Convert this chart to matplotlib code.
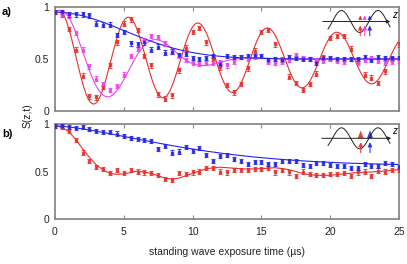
import numpy as np
import matplotlib
matplotlib.use("Agg")
import matplotlib.pyplot as plt

plt.rcParams['font.family'] = ['Liberation Sans', 'DejaVu Sans']

# measurement times (us)
t_data = np.arange(0, 25.01, 0.5)

# panel a) data
a_red = [0.95, 0.93, 0.79, 0.59, 0.34, 0.14, 0.13, 0.23, 0.44, 0.66,
         0.84, 0.88, 0.78, 0.53, 0.44, 0.16, 0.12, 0.15, 0.39, 0.61,
         0.76, 0.80, 0.66, 0.50, 0.42, 0.25, 0.18, 0.26, 0.41, 0.58,
         0.76, 0.78, 0.64, 0.50, 0.33, 0.27, 0.20, 0.26, 0.36, 0.52,
         0.70, 0.72, 0.72, 0.60, 0.48, 0.35, 0.32, 0.27, 0.38, 0.50,
         0.64]
a_magenta = [0.95, 0.94, 0.92, 0.75, 0.59, 0.43, 0.31, 0.26, 0.20, 0.24,
             0.35, 0.53, 0.60, 0.68, 0.72, 0.71, 0.65, 0.57, 0.53, 0.49,
             0.46, 0.45, 0.46, 0.46, 0.47, 0.44, 0.47, 0.52, 0.50, 0.52,
             0.53, 0.47, 0.46, 0.47, 0.49, 0.54, 0.51, 0.50, 0.49, 0.48,
             0.50, 0.48, 0.47, 0.50, 0.46, 0.49, 0.51, 0.48, 0.46, 0.47,
             0.48]
a_blue = [0.95, 0.95, 0.93, 0.93, 0.93, 0.92, 0.84, 0.83, 0.83, 0.73,
          0.76, 0.65, 0.64, 0.66, 0.59, 0.62, 0.56, 0.57, 0.54, 0.55,
          0.51, 0.50, 0.51, 0.53, 0.45, 0.53, 0.52, 0.52, 0.53, 0.53,
          0.53, 0.49, 0.50, 0.49, 0.52, 0.51, 0.50, 0.50, 0.46, 0.51,
          0.51, 0.50, 0.50, 0.50, 0.50, 0.52, 0.49, 0.52, 0.51, 0.51,
          0.51]

# panel b) data
b_red = [0.98, 0.97, 0.93, 0.83, 0.70, 0.61, 0.55, 0.53, 0.48, 0.52,
         0.48, 0.52, 0.50, 0.49, 0.48, 0.46, 0.42, 0.41, 0.48, 0.47,
         0.49, 0.50, 0.54, 0.54, 0.50, 0.49, 0.52, 0.52, 0.52, 0.53,
         0.53, 0.54, 0.49, 0.52, 0.49, 0.45, 0.50, 0.47, 0.46, 0.46,
         0.47, 0.47, 0.48, 0.45, 0.49, 0.50, 0.45, 0.51, 0.50, 0.52,
         0.52]
b_blue = [0.98, 0.98, 0.97, 0.96, 0.97, 0.95, 0.93, 0.92, 0.92, 0.90,
          0.87, 0.85, 0.84, 0.83, 0.82, 0.74, 0.77, 0.70, 0.71, 0.76,
          0.72, 0.75, 0.67, 0.61, 0.66, 0.67, 0.63, 0.61, 0.58, 0.60,
          0.60, 0.58, 0.58, 0.61, 0.61, 0.61, 0.57, 0.56, 0.59, 0.59,
          0.57, 0.56, 0.56, 0.54, 0.54, 0.58, 0.56, 0.56, 0.59, 0.58,
          0.55]
err = 0.022

# fit parameters
red_fit = dict(amp=0.47, tau=34.0, period=5.05, t0=0.3)
mag_fit = dict(amp=0.47, tau=7.74, period=7.2, t0=0.4)
blue_fit = dict(amp=0.45, tau=7.1)
b_blue_fit = dict(base=0.56, amp=0.42, tau=11.0, beta=1.5)
# panel b red theory curve, read point by point
b_red_fit_t = [0, 0.5, 1, 1.5, 2, 2.5, 3, 3.5, 4, 4.5, 5, 6, 7, 8, 8.5, 9,
               10, 11, 12, 13, 14, 15, 16, 17, 18, 18.5, 19, 20, 21, 22,
               23, 24, 25]
b_red_fit_s = [0.98, 0.965, 0.92, 0.84, 0.74, 0.65, 0.57, 0.515, 0.48, 0.47,
               0.475, 0.505, 0.48, 0.43, 0.42, 0.43, 0.48, 0.53, 0.545, 0.535,
               0.525, 0.53, 0.54, 0.52, 0.48, 0.465, 0.46, 0.46, 0.475, 0.49,
               0.495, 0.505, 0.52]

RED = '#e8302c'
MAG = '#f040f0'
BLUE = '#2424e8'
FRAME = '#8a8a8a'

tt = np.linspace(0, 25, 600)


def osc(p):
    env = np.exp(-tt / p['tau']) if p is red_fit else np.exp(-(tt / p['tau']) ** 2)
    return 0.5 + p['amp'] * env * np.cos(2 * np.pi * (tt - p['t0']) / p['period'])


def style_axes(ax, show_xlabels):
    ax.set_xlim(0, 25)
    ax.set_ylim(0, 1)
    ax.set_xticks([0, 5, 10, 15, 20, 25])
    ax.set_yticks([0, 0.5, 1])
    ax.set_yticklabels(['0', '0.5', '1'])
    ax.tick_params(axis='x', direction='in', top=True, length=3, width=0.8,
                   color=FRAME, labelsize=7.5, labelcolor='#222222', pad=6)
    ax.tick_params(axis='y', length=0, labelsize=7.5, labelcolor='#222222', pad=4)
    if not show_xlabels:
        ax.set_xticklabels([])
    for s in ax.spines.values():
        s.set_color(FRAME)
        s.set_linewidth(1.3)


def points(ax, y, c):
    ax.errorbar(t_data, y, yerr=err, fmt='s', ms=2.0, color=c, ecolor=c,
                elinewidth=0.8, capsize=1.3, capthick=0.8, alpha=0.85, zorder=3)


fig = plt.figure(figsize=(4.07, 2.64), dpi=100)
W, H = 407, 264
ax_a = fig.add_axes([55 / W, 1 - 111 / H, 344 / W, 104 / H])
ax_b = fig.add_axes([55 / W, 1 - 219 / H, 344 / W, 95 / H])

# panel a
ax_a.plot(tt, osc(red_fit), color=RED, lw=0.8, zorder=2)
ax_a.plot(tt, osc(mag_fit), color=MAG, lw=0.8, zorder=2)
ax_a.plot(tt, 0.5 + blue_fit['amp'] * np.exp(-(tt / blue_fit['tau']) ** 2),
          color=BLUE, lw=0.8, zorder=2)
points(ax_a, a_red, RED)
points(ax_a, a_magenta, MAG)
points(ax_a, a_blue, BLUE)
style_axes(ax_a, False)

# panel b
ax_b.plot(b_red_fit_t, b_red_fit_s, color=RED, lw=0.8, zorder=2)
p = b_blue_fit
ax_b.plot(tt, p['base'] + p['amp'] * np.exp(-(tt / p['tau']) ** p['beta']),
          color=BLUE, lw=0.8, zorder=2)
points(ax_b, b_red, RED)
points(ax_b, b_blue, BLUE)
style_axes(ax_b, True)

fig.text(227 / W, 1 - 252 / H, 'standing wave exposure time (\u00b5s)',
         ha='center', va='center', fontsize=7.5, color='#222222')
fig.text(28 / W, 1 - 116 / H, 'S(z,t)', rotation=90, ha='center', va='center',
         fontsize=7.5, color='#222222')
fig.text(2 / W, 1 - 12 / H, 'a)', fontsize=8, fontweight='bold', va='center')
fig.text(2 / W, 1 - 134 / H, 'b)', fontsize=8, fontweight='bold', va='center')

# insets, drawn in pixel coordinates on an overlay
ov = fig.add_axes([0, 0, 1, 1], zorder=10)
ov.set_xlim(0, W)
ov.set_ylim(H, 0)
ov.axis('off')


def inset(yc, x0, x1, amp, arrows, big):
    xs = np.linspace(328, 390, 200)
    ov.plot(xs, yc - amp * np.cos(2 * np.pi * (xs - 341.5) / 36.5), color='#222222', lw=0.7)
    ov.annotate('', xy=(x1, yc), xytext=(x0, yc),
                arrowprops=dict(arrowstyle='-|>', color='#222222', lw=0.7, mutation_scale=5))
    ov.text(x1 + 1, yc - 7, 'z', fontsize=7, style='italic', ha='center', va='center')
    for x, c in arrows:
        if big:
            ov.fill([x - 3, x + 3, x], [yc, yc, yc - 8], color=c, alpha=0.9, lw=0)
        else:
            ov.annotate('', xy=(x, yc - 9), xytext=(x, yc),
                        arrowprops=dict(arrowstyle='-|>', color=c, lw=0.9,
                                        mutation_scale=5, alpha=0.8))
        ov.annotate('', xy=(x, yc + 1), xytext=(x, yc + 17),
                    arrowprops=dict(arrowstyle='-|>', color=c, lw=0.9,
                                    mutation_scale=6, alpha=0.8))


inset(21.5, 320, 393, 11, [(360.3, RED), (364.7, MAG), (369.7, BLUE)], False)
inset(138.3, 319, 394, 10.5, [(360.7, RED), (370, BLUE)], True)

fig.savefig('out.png', dpi=100)
